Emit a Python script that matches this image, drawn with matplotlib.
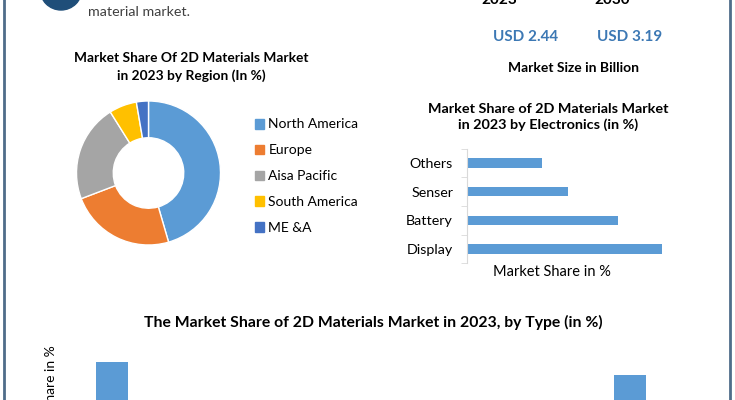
import numpy as np
import matplotlib.pyplot as plt
from matplotlib.patches import Circle, Patch
from matplotlib.lines import Line2D

plt.rcParams['font.family'] = ['Lato', 'DejaVu Sans']

# Datos
regiones = ['North America', 'Europe', 'Aisa Pacific', 'South America', 'ME &A']
share_region = [45.5, 23.7, 21.9, 6.2, 2.7]
colores_region = ['#5B9BD5', '#ED7D31', '#A5A5A5', '#FFC000', '#4472C4']

electronica = ['Display', 'Battery', 'Senser', 'Others']
share_electronica = [39, 30.2, 20.2, 15]

tipos = ['Graphene', 'h-BN', 'TMDs', 'MXenes', 'Phosphorene', 'Others']
share_tipo = [45.1, 28, 22, 16, 10, 41.4]

anios = ['2023', '2030']
tamanio = ['USD 2.44', 'USD 3.19']

W, H = 735, 400
fig = plt.figure(figsize=(W / 100, H / 100), dpi=100)


def fx(x):
    return x / W


def fy(y):
    return 1 - y / H


def ejes(x0, y0, x1, y1):
    # caja en pixeles (arriba-izquierda, abajo-derecha)
    return fig.add_axes([fx(x0), fy(y1), fx(x1 - x0), (y1 - y0) / H])


# Bordes laterales
fig.add_artist(Line2D([fx(4), fx(4)], [0, 1], color='#4F6D8A', lw=2))
fig.add_artist(Line2D([fx(730), fx(730)], [0, 1], color='#4F6D8A', lw=2))

# Logo (recortado arriba)
logo = ejes(30, -40, 90, 20)
logo.set_xlim(0, 60)
logo.set_ylim(60, 0)
logo.axis('off')
logo.add_patch(Circle((31, 29), 21, color='#1F4E79'))
logo.add_patch(Circle((31, 33), 4, fill=False, ec='white', lw=1.2))

fig.text(fx(88), fy(12), 'material market.', fontsize=10.3, color='#404040',
         ha='left', va='center')

# Tamano de mercado
for i, (a, t) in enumerate(zip(anios, tamanio)):
    fig.text(fx([499, 612][i]), fy(0), a, fontsize=11, fontweight='bold',
             ha='center', va='center')
    fig.text(fx([526, 630][i]), fy(37), t, fontsize=11, fontweight='bold',
             color='#3C78B4', ha='center', va='center')
fig.text(fx(574), fy(68), 'Market Size in Billion', fontsize=10, fontweight='bold',
         ha='center', va='center')

# Dona por region
fig.text(fx(191), fy(67), 'Market Share Of 2D Materials Market\nin 2023 by Region (In %)',
         fontsize=9.9, fontweight='bold', ha='center', va='center', linespacing=1.45)
ax1 = ejes(73.5, 98, 223.5, 248)
ax1.pie(share_region, colors=colores_region, startangle=90, counterclock=False,
        radius=0.96, wedgeprops=dict(width=0.49, edgecolor='white', linewidth=1))
ax1.set_xlim(-1, 1)
ax1.set_ylim(-1, 1)
handles = [Patch(color=c, label=r) for c, r in zip(colores_region, regiones)]
fig.legend(handles=handles, loc='upper left', bbox_to_anchor=(fx(242), fy(106)),
           frameon=False, fontsize=10, handlelength=0.7, handleheight=0.7,
           handletextpad=0.3, labelspacing=1.0)

# Barras por electronica
fig.text(fx(548), fy(117), 'Market Share of 2D Materials Market\nin 2023 by Electronics (in %)',
         fontsize=10.4, fontweight='bold', ha='center', va='center', linespacing=1.3)
ax2 = ejes(467, 148.7, 667, 263.4)
y = np.arange(len(electronica))
ax2.barh(y, share_electronica, height=0.32, color='#5B9BD5')
ax2.set_xlim(0, 40)
ax2.set_ylim(-0.5, 3.5)
ax2.set_yticks(y)
ax2.set_yticklabels(electronica, fontsize=10.3)
ax2.set_yticks(np.arange(-0.5, 4, 1), minor=True)
ax2.tick_params(axis='y', which='major', length=0, pad=10)
ax2.tick_params(axis='y', which='minor', length=4, color='#D9D9D9')
ax2.set_xticks([])
for s in ['top', 'right', 'bottom']:
    ax2.spines[s].set_visible(False)
ax2.spines['left'].set_color('#D9D9D9')
fig.text(fx(552), fy(272), 'Market Share in %', fontsize=10.5, ha='center', va='center')

# Barras por tipo (se corta abajo)
fig.text(fx(373), fy(322), 'The Market Share of 2D Materials Market in 2023, by Type (in %)',
         fontsize=11.3, fontweight='bold', ha='center', va='center')
ax3 = ejes(60.2, 345, 681.8, 520)
x = np.arange(len(tipos))
ax3.bar(x, share_tipo, width=0.3, color='#5B9BD5')
ax3.set_xlim(-0.5, len(tipos) - 0.5)
ax3.set_ylim(0, 50)
ax3.set_xticks([])
ax3.set_yticks([])
for s in ax3.spines.values():
    s.set_visible(False)
ax3.set_ylabel('Market Share in %', fontsize=10, labelpad=2, loc='top')

fig.savefig('out.png', dpi=100)
